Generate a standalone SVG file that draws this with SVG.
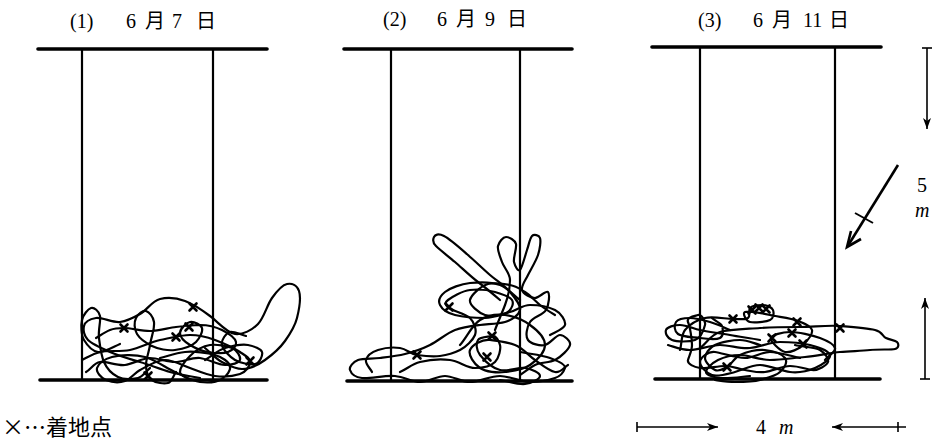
<svg xmlns="http://www.w3.org/2000/svg" width="936" height="444" viewBox="0 0 936 444">
<defs>
<style>
.bar{stroke:#000;stroke-width:3.6;stroke-linecap:round}
.wall{stroke:#000;stroke-width:2.2}
.fly{fill:none;stroke:#000;stroke-width:2.2;stroke-linecap:round;stroke-linejoin:round}
.x{fill:none;stroke:#000;stroke-width:2.6;stroke-linecap:round}
.dim{stroke:#000;stroke-width:1.6;fill:none}
.t{font-family:'Liberation Serif','Noto Sans CJK JP',serif;font-size:20px;fill:#000}
.ti{font-family:'Liberation Serif',serif;font-size:20px;font-style:italic;fill:#000}
.lg{font-family:'Noto Sans CJK JP','Noto Sans',sans-serif;font-size:22px;fill:#000}
</style>
<path id="cx" class="x" d="M-3.5,-3.5 L3.5,3.5 M3.5,-3.5 L-3.5,3.5"/>
<marker id="ah" markerUnits="userSpaceOnUse" markerWidth="12" markerHeight="10" refX="11" refY="5" orient="auto"><path d="M0,1 L11,5 L0,9 L3,5 z" fill="#000"/></marker>
</defs>
<rect width="936" height="444" fill="#fff"/>

<g id="panel1">
<text class="t" y="28"><tspan x="70">(1)</tspan><tspan x="126">6</tspan><tspan x="145">月</tspan><tspan x="172">7</tspan><tspan x="196">日</tspan></text>
<line class="bar" x1="38" y1="49" x2="267" y2="49"/>
<line class="wall" x1="82" y1="49" x2="82" y2="380"/>
<line class="wall" x1="213" y1="49" x2="213" y2="380"/>
<line class="bar" x1="40" y1="380" x2="267" y2="380"/>
<path class="fly" d="M200,378 C190,376 180,375 170,372 S150,365 140,362 S119,356 110,352 S92,344 88,340 S83,330 84,326 S90,319 96,318 S113,323 120,322 S133,318 140,314 S152,301 160,299 S177,298 185,301 S202,310 210,316 S227,333 235,334 S252,330 258,324 S267,305 272,298 S282,285 287,284 S297,285 299,291 S299,310 297,318 S290,334 285,341 S272,355 265,360 S249,369 242,369 S228,365 222,362 S211,353 205,348"/>
<path class="fly" d="M82,360 C88,357 92,354 100,352 S120,352 130,350 S150,342 160,340 S181,335 190,335 S207,337 215,340 S234,348 240,352 S250,358 250,362 S246,372 240,374 S223,377 215,376 S198,371 190,368 S173,360 165,360 S147,366 140,370 S131,379 125,381 S111,382 106,380 S96,372 97,368 S104,359 112,357 S134,354 145,357 S166,368 175,372 S192,381 200,382 S217,382 222,379 S231,370 230,366 S222,357 215,355 S194,351 185,352 S168,356 160,358"/>
<path class="fly" d="M96,338 C101,335 105,332 110,330 S117,328 124,328 S141,331 150,331 S168,328 176,327 S192,325 200,325 S216,327 222,330 S235,338 236,342 S233,350 228,352 S214,353 208,352 S195,348 190,345 S180,337 180,333 S186,323 190,322 S201,325 202,328 S200,338 196,342 S182,349 175,350 S158,349 152,346 S140,339 137,334 S134,322 136,318 S143,310 146,311 S153,316 154,322 S151,338 150,345 S146,359 146,365 S148,377 152,380 S164,384 168,383 S173,376 176,372"/>
<path class="fly" d="M120,344 C113,347 104,353 98,352 S87,345 84,340 S81,325 82,320 S88,309 91,308 S99,311 100,316 S98,330 99,338 S101,355 104,362 S112,374 118,377 S133,379 138,378 S146,371 150,368"/>
<path class="fly" d="M205,360 C212,356 218,350 225,348 S242,344 248,345 S261,349 262,352 S260,363 255,364 S240,363 235,360 S223,350 222,345 S226,333 230,332 S241,335 246,336"/>
<path class="fly" d="M86,372 C91,369 94,363 100,362 S117,366 125,365 S142,358 150,358 S167,362 175,362 S192,357 200,358 S218,365 225,365 S239,363 240,360 S237,350 232,348 S217,344 210,345 S195,351 190,356 S180,368 180,372 S187,377 190,380"/>
<use href="#cx" x="124" y="328"/><use href="#cx" x="193" y="307"/><use href="#cx" x="189" y="327"/><use href="#cx" x="176" y="337"/><use href="#cx" x="250" y="361"/><use href="#cx" x="148" y="376"/>
</g>

<g id="panel2">
<text class="t" y="26"><tspan x="383">(2)</tspan><tspan x="437">6</tspan><tspan x="456">月</tspan><tspan x="485">9</tspan><tspan x="507">日</tspan></text>
<line class="bar" x1="344" y1="49" x2="572" y2="49"/>
<line class="wall" x1="391" y1="49" x2="391" y2="381"/>
<line class="wall" x1="520" y1="49" x2="520" y2="381"/>
<line class="bar" x1="347" y1="381" x2="572" y2="381"/>
<path class="fly" d="M500,300 C493,294 486,288 478,282 S462,268 455,262 S440,250 436,246 S433,239 434,237 S438,233 444,236 S460,248 468,255 S483,269 490,275 S505,286 510,292 S521,305 520,310 S512,320 505,322 S488,324 480,325 S463,327 455,330 S438,341 430,345 S413,352 405,354 S388,357 380,358 S363,358 358,360 S349,367 350,370 S354,377 362,378 S385,375 395,376 S412,382 420,382 S437,376 445,376 S461,382 470,382 S490,376 500,376 S521,382 530,382 S549,380 555,378 S564,371 565,368 S558,361 550,358 S530,354 520,352"/>
<path class="fly" d="M372,372 C370,368 365,364 366,360 S372,352 378,350 S393,347 400,348 S410,354 417,355 S433,357 440,356 S454,353 460,350 S473,340 475,335 S474,322 470,318 S453,311 449,308 S444,303 448,300 S462,291 470,290 S488,290 495,292 S510,297 512,300 S512,309 508,312 S491,317 485,315 S469,305 470,300 S481,286 488,284 S504,284 510,285 S520,289 525,292 S535,301 540,305 S550,312 555,315"/>
<path class="fly" d="M495,330 C498,322 502,313 505,305 S510,287 510,280 S504,268 502,262 S497,250 498,246 S503,237 506,237 S515,240 516,244 S513,258 514,262 S518,272 520,270 S525,256 527,250 S530,238 532,236 S539,235 540,238 S540,249 538,255 S531,269 528,275 S521,286 522,290 S531,298 535,298 S546,290 548,292 S549,305 546,310 S533,317 530,322 S525,336 528,340 S540,346 545,345 S556,335 560,335 S571,341 570,345 S561,357 555,360 S541,362 535,365 S525,372 520,375"/>
<path class="fly" d="M400,372 C407,369 412,364 420,362 S441,359 450,360 S467,368 475,368 S491,366 495,362 S501,349 500,345 S496,335 492,336 S480,337 478,340 S476,350 480,355 S492,368 500,370 S518,367 525,368 S540,373 540,376 S532,383 525,384 S508,381 500,380"/>
<path class="fly" d="M460,345 C467,337 472,325 480,320 S497,314 505,315 S523,320 530,325 S545,338 545,345 S537,360 530,365 S513,371 505,372 S486,372 480,368 S468,355 470,350 S482,339 490,340 S507,342 515,345 S528,355 535,360 S549,371 555,372 S564,367 568,365"/>
<path class="fly" d="M520,300 C513,295 508,288 500,285 S479,282 470,283 S450,288 445,292 S438,301 440,305 S447,313 455,315 S476,318 485,318 S502,314 510,312 S522,305 530,305 S549,307 555,310 S566,321 565,325 S555,332 550,335"/>
<use href="#cx" x="449" y="307"/><use href="#cx" x="492" y="336"/><use href="#cx" x="417" y="355"/><use href="#cx" x="487" y="357"/>
</g>

<g id="panel3">
<text class="t" y="27"><tspan x="698">(3)</tspan><tspan x="753">6</tspan><tspan x="772">月</tspan><tspan x="803">11</tspan><tspan x="829">日</tspan></text>
<line class="bar" x1="652" y1="47" x2="881" y2="47"/>
<line class="wall" x1="700" y1="47" x2="700" y2="379"/>
<line class="wall" x1="835" y1="47" x2="835" y2="379"/>
<line class="bar" x1="655" y1="379" x2="880" y2="379"/>
<path class="fly" d="M700,348 C707,343 710,335 720,332 S747,329 760,328 S787,327 800,327 S827,325 840,326 S867,328 875,330 S882,336 886,338 S895,340 897,342 S899,348 895,349 S879,349 870,350 S851,351 840,352 S817,356 805,357 S781,360 770,360 S749,355 740,355 S724,357 718,360 S706,369 706,372 S713,377 720,378 S740,377 750,376"/>
<path class="fly" d="M760,340 C750,338 740,337 730,335 S708,332 700,330 S686,325 680,325 S667,327 666,330 S667,338 672,340 S689,342 695,340 S704,329 705,325 S701,314 698,315 S686,317 688,322 S692,339 692,345 S689,356 688,360 S694,367 700,368 S717,366 725,366 S738,369 745,370 S757,373 765,372 S782,366 790,366 S806,369 812,370 S827,365 828,362 S825,353 820,350 S803,347 795,345"/>
<path class="fly" d="M680,350 C682,343 681,335 685,330 S697,320 705,318 S726,319 733,319 S745,320 748,318 S748,310 750,308 S758,305 762,305 S772,307 773,310 S774,318 770,320 S754,323 750,322 S742,313 745,312 S761,313 770,315 S791,318 798,321 S811,326 812,330 S807,341 803,345 S790,353 785,352 S770,341 771,338 S782,332 790,332 S812,335 820,338 S834,344 835,348 S828,356 825,360"/>
<path class="fly" d="M760,345 C753,343 747,340 740,340 S721,342 715,345 S705,354 705,358 S711,368 715,370 S723,369 727,367 S734,358 740,355 S757,349 765,350 S782,354 785,358 S784,368 780,372 S767,378 760,380 S742,382 735,382 S722,381 715,380"/>
<path class="fly" d="M668,345 C675,347 681,350 690,350 S710,345 720,345 S740,349 750,348 S770,342 780,342 S802,343 810,345 S829,351 830,355 S822,365 815,368 S799,373 790,372 S769,365 760,365 S743,370 735,372 S718,377 712,375 S700,366 700,362 S708,351 715,352 S736,358 745,358 S761,352 770,352 S790,356 800,358"/>
<path class="fly" d="M730,330 C723,327 717,324 710,322 S696,318 690,318 S678,319 676,322 S674,331 678,334 S693,337 700,338 S716,340 720,338 S723,329 722,326 S715,321 712,318"/>
<use href="#cx" x="733" y="319"/><use href="#cx" x="752" y="310"/><use href="#cx" x="759" y="308"/><use href="#cx" x="766" y="309"/><use href="#cx" x="797" y="322"/><use href="#cx" x="792" y="333"/><use href="#cx" x="772" y="338"/><use href="#cx" x="803" y="344"/><use href="#cx" x="840" y="328"/><use href="#cx" x="727" y="367"/>
</g>

<g id="dimensions">
<line class="dim" x1="922" y1="48" x2="932" y2="48"/>
<line class="dim" x1="927" y1="48" x2="927" y2="129" marker-end="url(#ah)"/>
<line class="dim" x1="920" y1="379" x2="930" y2="379"/>
<line class="dim" x1="925" y1="379" x2="925" y2="298" marker-end="url(#ah)"/>
<text class="t" x="917" y="192">5</text>
<text class="ti" x="915" y="217">m</text>
<line class="dim" x1="637" y1="422" x2="637" y2="432"/>
<line class="dim" x1="637" y1="427" x2="718" y2="427" marker-end="url(#ah)"/>
<line class="dim" x1="898" y1="422" x2="898" y2="432"/>
<line class="dim" x1="906" y1="427" x2="832" y2="427" marker-end="url(#ah)"/>
<text class="t" x="756" y="434">4</text>
<text class="ti" x="779" y="434">m</text>
</g>

<g id="wind">
<line stroke="#000" stroke-width="2.6" x1="898" y1="165" x2="849" y2="244"/>
<polyline fill="none" stroke="#000" stroke-width="2.6" stroke-linejoin="miter" points="851,231 847,247 861,239"/>
<line stroke="#000" stroke-width="2" x1="855" y1="213" x2="873" y2="223"/>
</g>

<text id="legend" class="lg" x="2" y="435">×…着地点</text>
</svg>
